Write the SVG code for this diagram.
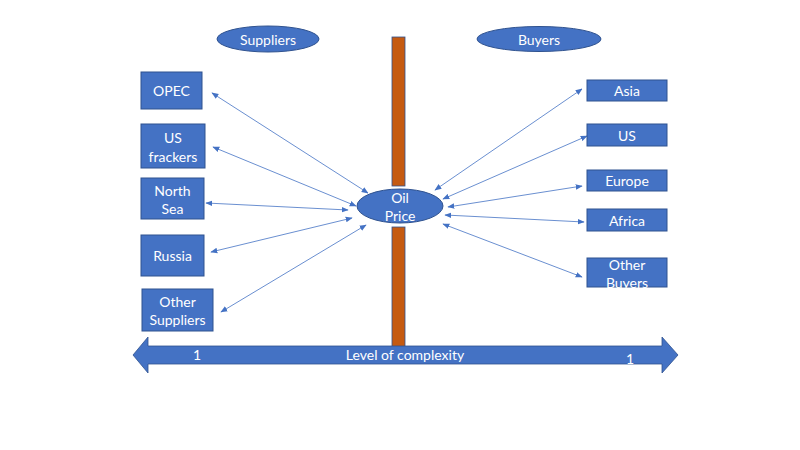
<svg xmlns="http://www.w3.org/2000/svg" width="800" height="450" viewBox="0 0 800 450">
<style>
.box{fill:#4472C4;stroke:#2F528F;stroke-width:1}
.t{font-family:Lato,"Open Sans","Liberation Sans",sans-serif;font-size:14px;fill:#fff;text-anchor:middle;dominant-baseline:central}
.c{stroke:#4472C4;stroke-width:0.8;fill:none;marker-start:url(#ah);marker-end:url(#ah)}
</style>
<defs>
<marker id="ah" viewBox="0 0 10 10" refX="9" refY="5" markerWidth="7" markerHeight="7" orient="auto-start-reverse" markerUnits="userSpaceOnUse">
<path d="M0,1 L10,5 L0,9 Z" fill="#4472C4"/>
</marker>
</defs>
<rect width="800" height="450" fill="#fff"/>
<g id="bar">
<rect x="392" y="37" width="13" height="149" fill="#C55A11" stroke="#2F528F" stroke-width="0.8"/>
<rect x="392" y="227" width="13" height="120" fill="#C55A11" stroke="#2F528F" stroke-width="0.8"/>
</g>
<g id="axis">
<path d="M133,355 L148,337 L148,346 L662,346 L662,337 L678,355 L662,373 L662,364 L148,364 L148,373 Z" fill="#4472C4" stroke="#2F528F" stroke-width="0.8"/>
<text class="t" x="197" y="354">1</text>
<text class="t" x="405" y="354">Level of complexity</text>
<text class="t" x="630" y="358">1</text>
</g>
<g id="connectors">
<line class="c" x1="368" y1="193" x2="212" y2="93"/>
<line class="c" x1="356" y1="206" x2="213" y2="147"/>
<line class="c" x1="348" y1="210" x2="206" y2="203"/>
<line class="c" x1="352" y1="218" x2="211" y2="252"/>
<line class="c" x1="366" y1="225" x2="221" y2="312"/>
<line class="c" x1="435" y1="190" x2="582" y2="89"/>
<line class="c" x1="443" y1="199" x2="587" y2="136"/>
<line class="c" x1="448" y1="207" x2="582" y2="186"/>
<line class="c" x1="445" y1="215" x2="584" y2="222"/>
<line class="c" x1="443" y1="224" x2="582" y2="277"/>
</g>
<g id="suppliers-label"><ellipse class="box" cx="268" cy="39" rx="51" ry="13"/><text class="t" x="268" y="39">Suppliers</text></g>
<g id="buyers-label"><ellipse class="box" cx="539" cy="39" rx="62" ry="12.5"/><text class="t" x="539" y="39">Buyers</text></g>
<g id="oil-price"><ellipse class="box" cx="400" cy="206" rx="43" ry="17"/><text class="t" x="400" y="197">Oil</text><text class="t" x="400" y="215">Price</text></g>
<g id="opec"><rect class="box" x="141" y="72" width="61" height="37"/><text class="t" x="171.5" y="90.5">OPEC</text></g>
<g id="us-frackers"><rect class="box" x="141" y="124" width="64" height="44"/><text class="t" x="173" y="137">US</text><text class="t" x="173" y="156">frackers</text></g>
<g id="north-sea"><rect class="box" x="141" y="178" width="63" height="41"/><text class="t" x="172.5" y="190">North</text><text class="t" x="172.5" y="208">Sea</text></g>
<g id="russia"><rect class="box" x="141" y="235" width="63" height="41"/><text class="t" x="172.5" y="255.5">Russia</text></g>
<g id="other-suppliers"><rect class="box" x="142" y="289" width="71" height="42"/><text class="t" x="177.5" y="301">Other</text><text class="t" x="177.5" y="319">Suppliers</text></g>
<g id="asia"><rect class="box" x="587" y="80" width="80" height="21"/><text class="t" x="627" y="90.5">Asia</text></g>
<g id="us"><rect class="box" x="587" y="124" width="80" height="22"/><text class="t" x="627" y="135">US</text></g>
<g id="europe"><rect class="box" x="587" y="170" width="80" height="21"/><text class="t" x="627" y="180.5">Europe</text></g>
<g id="africa"><rect class="box" x="587" y="209" width="80" height="22"/><text class="t" x="627" y="220">Africa</text></g>
<g id="other-buyers"><rect class="box" x="587" y="258" width="80" height="29"/><text class="t" x="627" y="264">Other</text><text class="t" x="627" y="282">Buyers</text></g>
</svg>
